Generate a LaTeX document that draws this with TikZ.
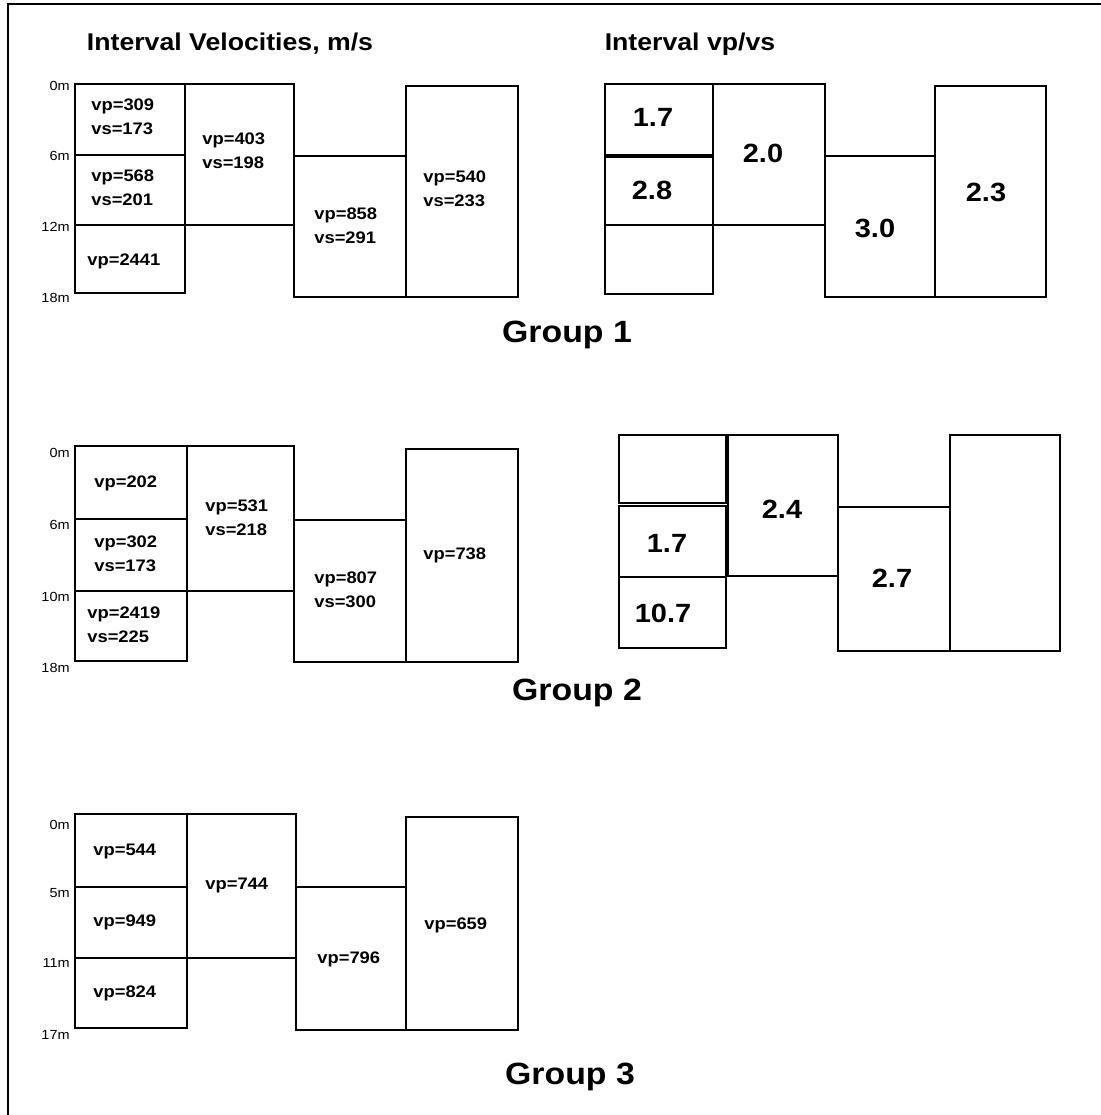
\documentclass[tikz,border=0pt]{standalone}
\usepackage{fontspec}
\setmainfont[FakeStretch=1.1]{Liberation Sans}
\usepackage{tikz}

\tikzset{
  box/.style={line width=1.6pt},
  frame/.style={line width=1.3pt},
  vel/.style={anchor=west, align=left, inner sep=0pt, font=\bfseries\fontsize{9.5}{13.6}\selectfont},
  ratio/.style={inner sep=0pt, font=\bfseries\fontsize{15}{18}\selectfont},
  depth/.style={anchor=east, inner sep=0pt, font=\fontsize{7.5}{9}\selectfont},
  heading/.style={inner sep=0pt, font=\bfseries\fontsize{13.8}{16}\selectfont},
  grouplab/.style={inner sep=0pt, font=\bfseries\fontsize{17.5}{20}\selectfont}
}

\begin{document}
\begin{tikzpicture}[x=0.02cm,y=-0.02cm]
\useasboundingbox (0,0) rectangle (1101,1115);
\draw[frame] (1101,4) -- (8,4) -- (8,1115);

\node[heading] (headvel) at (230,44) {Interval Velocities, m/s};
\node[heading] (headratio) at (690,44) {Interval vp/vs};

% group 1, velocities
\draw[box] (75,84) rectangle (185,155);
\draw[box] (75,155) rectangle (185,225);
\draw[box] (75,225) rectangle (185,293);
\draw[box] (185,84) rectangle (294,225);
\draw[box] (294,156) rectangle (406,297);
\draw[box] (406,86) rectangle (518,297);
\node[vel] (ga1) at (91,117) {vp=309\\vs=173};
\node[vel] (ga2) at (91,188) {vp=568\\vs=201};
\node[vel] (ga3) at (87,261) {vp=2441};
\node[vel] (gab) at (202,151) {vp=403\\vs=198};
\node[vel] (gac) at (314,226) {vp=858\\vs=291};
\node[vel] (gad) at (423,189) {vp=540\\vs=233};
\node[depth] (gd0) at (70,86) {0m};
\node[depth] (gd1) at (70,156) {6m};
\node[depth] (gd2) at (70,227) {12m};
\node[depth] (gd3) at (70,298) {18m};

% group 1, vp/vs
\draw[box] (605,84) rectangle (713,155);
\draw[box] (605,157) rectangle (713,225);
\draw[box] (605,225) rectangle (713,294);
\draw[box] (713,84) rectangle (825,225);
\draw[box] (825,156) rectangle (935,297);
\draw[box] (935,86) rectangle (1046,297);
\node[ratio] (ra1) at (653,117) {1.7};
\node[ratio] (ra2) at (652,190) {2.8};
\node[ratio] (rab) at (763,153) {2.0};
\node[ratio] (rac) at (875,228) {3.0};
\node[ratio] (rad) at (986,192) {2.3};

\node[grouplab] (group1) at (567,335) {Group 1};

% group 2, velocities
\draw[box] (75,446) rectangle (187,519);
\draw[box] (75,519) rectangle (187,591);
\draw[box] (75,591) rectangle (187,661);
\draw[box] (187,446) rectangle (294,591);
\draw[box] (294,520) rectangle (406,662);
\draw[box] (406,449) rectangle (518,662);
\node[vel] (gb1) at (94,483) {vp=202};
\node[vel] (gb2) at (94,554) {vp=302\\vs=173};
\node[vel] (gb3) at (87,625) {vp=2419\\vs=225};
\node[vel] (gbb) at (205,518) {vp=531\\vs=218};
\node[vel] (gbc) at (314,590) {vp=807\\vs=300};
\node[vel] (gbd) at (423,555) {vp=738};
\node[depth] (ge0) at (70,453) {0m};
\node[depth] (ge1) at (70,525) {6m};
\node[depth] (ge2) at (70,597) {10m};
\node[depth] (ge3) at (70,668) {18m};

% group 2, vp/vs
\draw[box] (619,435) rectangle (726,503);
\draw[box] (619,506) rectangle (726,577);
\draw[box] (619,577) rectangle (726,648);
\draw[box] (728,435) rectangle (838,576);
\draw[box] (838,507) rectangle (950,651);
\draw[box] (950,435) rectangle (1060,651);
\node[ratio] (rb2) at (667,543) {1.7};
\node[ratio] (rb3) at (663,613) {10.7};
\node[ratio] (rbb) at (782,509) {2.4};
\node[ratio] (rbc) at (892,578) {2.7};

\node[grouplab] (group2) at (577,693) {Group 2};

% group 3, velocities
\draw[box] (75,814) rectangle (187,887);
\draw[box] (75,887) rectangle (187,958);
\draw[box] (75,958) rectangle (187,1028);
\draw[box] (187,814) rectangle (296,958);
\draw[box] (296,887) rectangle (406,1030);
\draw[box] (406,817) rectangle (518,1030);
\node[vel] (gc1) at (93,851) {vp=544};
\node[vel] (gc2) at (93,922) {vp=949};
\node[vel] (gc3) at (93,993) {vp=824};
\node[vel] (gcb) at (205,885) {vp=744};
\node[vel] (gcc) at (317,959) {vp=796};
\node[vel] (gcd) at (424,925) {vp=659};
\node[depth] (gf0) at (70,825) {0m};
\node[depth] (gf1) at (70,893) {5m};
\node[depth] (gf2) at (70,963) {11m};
\node[depth] (gf3) at (70,1035) {17m};

\node[grouplab] (group3) at (570,1077) {Group 3};
\end{tikzpicture}
\end{document}
